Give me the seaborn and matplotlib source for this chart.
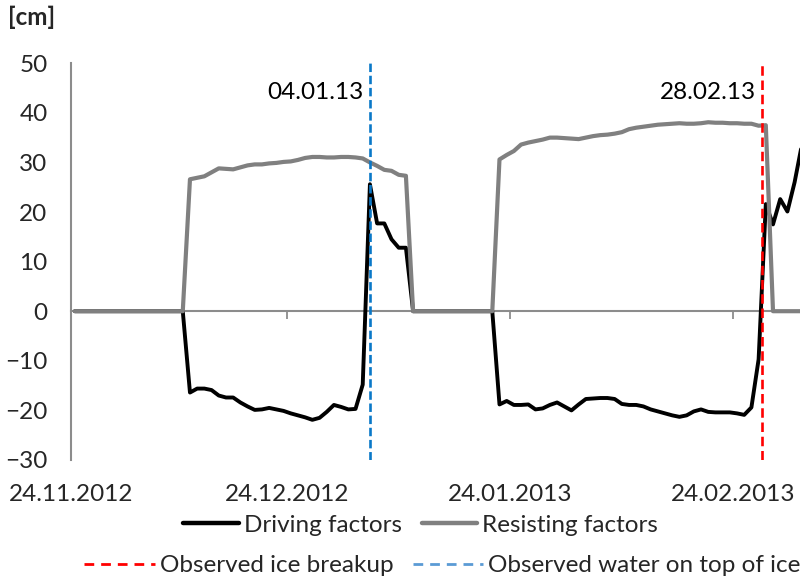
import matplotlib
matplotlib.use("Agg")
import matplotlib.pyplot as plt
import matplotlib.dates as mdates
import pandas as pd
import seaborn as sns
from matplotlib.lines import Line2D

# daily values from 24.11.2012 onwards
driving = [0, 0, 0, 0, 0, 0, 0, 0, 0, 0, 0, 0, 0, 0, 0, 0,
           -16.4, -15.6, -15.6, -15.9, -17.0, -17.4, -17.4, -18.4, -19.2, -19.9,
           -19.8, -19.5, -19.8, -20.1, -20.6, -21.0, -21.4, -21.9, -21.5, -20.3,
           -18.9, -19.3, -19.8, -19.7, -14.8, 25.6, 17.7, 17.7, 14.5, 12.8, 12.8,
           0, 0, 0, 0, 0, 0, 0, 0, 0, 0, 0, 0,
           -18.8, -18.1, -18.9, -18.9, -18.8, -19.8, -19.6, -18.9, -18.4, -19.2,
           -20.0, -18.8, -17.7, -17.6, -17.5, -17.5, -17.7, -18.7, -18.9, -18.9,
           -19.2, -19.8, -20.2, -20.6, -21.0, -21.3, -21.0, -20.2, -19.8, -20.3,
           -20.4, -20.4, -20.4, -20.6, -20.9, -19.4, -9.7, 21.6, 17.5, 22.6,
           20.1, 26.0, 33.5]
resisting = [0, 0, 0, 0, 0, 0, 0, 0, 0, 0, 0, 0, 0, 0, 0, 0,
             26.6, 26.9, 27.2, 28.0, 28.8, 28.7, 28.6, 29.0, 29.4, 29.6,
             29.6, 29.8, 29.9, 30.1, 30.2, 30.5, 30.9, 31.1, 31.1, 31.0,
             31.0, 31.1, 31.1, 31.0, 30.8, 30.0, 29.3, 28.5, 28.3, 27.5, 27.3,
             0, 0, 0, 0, 0, 0, 0, 0, 0, 0, 0, 0,
             30.6, 31.5, 32.3, 33.6, 34.0, 34.3, 34.6, 35.0, 35.0, 34.9,
             34.8, 34.7, 35.0, 35.3, 35.5, 35.6, 35.8, 36.1, 36.7, 37.0,
             37.2, 37.4, 37.6, 37.7, 37.8, 37.9, 37.8, 37.8, 37.9, 38.1,
             38.0, 38.0, 37.9, 37.9, 37.8, 37.8, 37.4, 37.5, 0, 0,
             0, 0, 0]
dates = pd.date_range("2012-11-24 12:00", periods=len(driving), freq="D")

event_dates = ["2013-01-04 12:00", "2013-02-28 00:00"]
event_labels = ["04.01.13", "28.02.13"]
event_colors = ["#0A78C8", "#FF0000"]
event_dashes = [(3.2, 1.4), (3.6, 1.8)]

tick_dates = ["2012-11-24", "2012-12-24", "2013-01-24", "2013-02-24"]

df = pd.DataFrame({"date": dates, "Driving factors": driving,
                   "Resisting factors": resisting})

sns.set_style("white")
plt.rcParams["font.family"] = ["Lato", "DejaVu Sans"]
fs = 17.5

fig = plt.figure(figsize=(8, 5.8), dpi=100)
ax = fig.add_axes([0.089, 0.2069, 0.911, 0.6841])

sns.lineplot(data=df, x="date", y="Driving factors", color="black",
             linewidth=2.8, ax=ax, zorder=3)
sns.lineplot(data=df, x="date", y="Resisting factors", color="#808080",
             linewidth=3.0, ax=ax, zorder=4)

for d, lab, c, ds in zip(event_dates, event_labels, event_colors, event_dashes):
    t = pd.Timestamp(d)
    ax.axvline(t, color=c, linewidth=1.9, dashes=ds, zorder=5)
    ax.text(t - pd.Timedelta(hours=20), 44, lab, ha="right", va="center",
            fontsize=fs, color="black")

ax.set_xlim(pd.Timestamp("2012-11-24"), pd.Timestamp("2013-03-05 06:00"))
ax.set_ylim(-30, 50)
ax.set_yticks(range(-30, 51, 10))
ax.set_xticks(pd.to_datetime(tick_dates))
ax.xaxis.set_major_formatter(mdates.DateFormatter("%d.%m.%Y"))
ax.tick_params(axis="x", length=0, pad=17, labelsize=fs)
ax.tick_params(axis="y", length=0, pad=17, labelsize=fs)
ax.set_xlabel("")
ax.set_ylabel("")

for s in ["top", "right", "bottom"]:
    ax.spines[s].set_visible(False)
ax.spines["left"].set_color("#8C8C8C")
ax.spines["left"].set_linewidth(1.5)

# zero line with tick marks
sec = ax.secondary_xaxis(0.375)
sec.set_xticks(pd.to_datetime(tick_dates))
sec.tick_params(axis="x", direction="out", length=6, width=1.3,
                color="#8C8C8C", labelbottom=False, labeltop=False)
sec.spines["bottom"].set_color("#8C8C8C")
sec.spines["bottom"].set_linewidth(1.5)
for s in ["top", "left", "right"]:
    sec.spines[s].set_visible(False)

fig.text(0.01, 0.97, "[cm]", fontsize=fs, fontweight="bold",
         ha="left", va="center")

h1 = [Line2D([], [], color="black", linewidth=3.2),
      Line2D([], [], color="#808080", linewidth=3.2)]
fig.legend(h1, ["Driving factors", "Resisting factors"], ncol=2,
           loc="center", bbox_to_anchor=(0.526, 0.094), frameon=False,
           fontsize=fs, handlelength=2.3, handletextpad=0.2,
           columnspacing=0.8)
h2 = [Line2D([], [], color="#FF0000", linewidth=2, dashes=(3.5, 2.5)),
      Line2D([], [], color="#5B9BD5", linewidth=2, dashes=(3.5, 2.5))]
fig.legend(h2, ["Observed ice breakup", "Observed water on top of ice"], ncol=2,
           loc="center", bbox_to_anchor=(0.553, 0.025), frameon=False,
           fontsize=fs, handlelength=2.9, handletextpad=0.2,
           columnspacing=0.8)

fig.savefig("out.png", dpi=100, facecolor="white")
